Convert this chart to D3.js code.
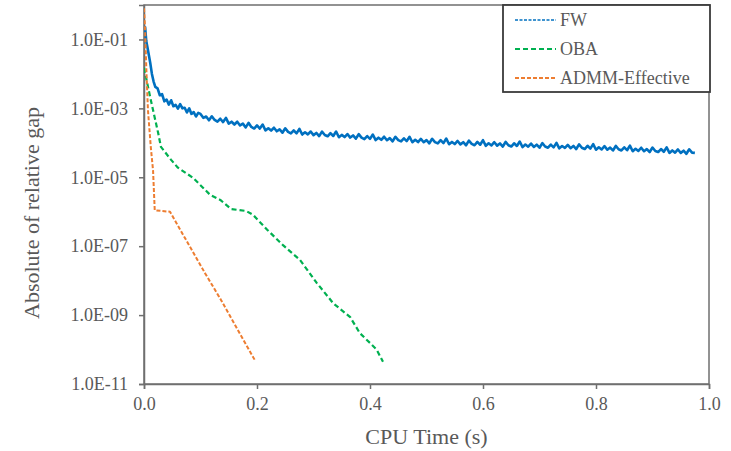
<!DOCTYPE html>
<html>
<head>
<meta charset="utf-8">
<script src="https://cdn.jsdelivr.net/npm/d3@7"></script>
<style>
    body { margin: 0; background: #fff; }
    text { font-family: "Times New Roman", "Liberation Serif", serif; fill: #595959; }
</style>
</head>
<body>
<svg id="gapChart" width="731" height="451"></svg>
<script>
// Data
const fwTime = [0, 0.002, 0.004, 0.006, 0.008, 0.011, 0.014, 0.017,
    0.020, 0.024, 0.028, 0.032, 0.036, 0.040, 0.044, 0.048, 0.052, 0.056,
    0.060, 0.064, 0.068, 0.072, 0.076, 0.080, 0.084, 0.088, 0.092, 0.096,
    0.100, 0.105, 0.110, 0.115, 0.120, 0.125, 0.130, 0.135, 0.140, 0.145,
    0.150, 0.155, 0.160, 0.165, 0.170, 0.175, 0.180, 0.185, 0.190, 0.195,
    0.200, 0.205, 0.210, 0.215, 0.220, 0.225, 0.230, 0.235, 0.240, 0.245,
    0.250, 0.255, 0.260, 0.265, 0.270, 0.275, 0.280, 0.285, 0.290, 0.295,
    0.300, 0.305, 0.310, 0.315, 0.320, 0.325, 0.330, 0.335, 0.340, 0.345,
    0.350, 0.355, 0.360, 0.365, 0.370, 0.375, 0.380, 0.385, 0.390, 0.395,
    0.400, 0.405, 0.410, 0.415, 0.420, 0.425, 0.430, 0.435, 0.440, 0.445,
    0.450, 0.455, 0.460, 0.465, 0.470, 0.475, 0.480, 0.485, 0.490, 0.495,
    0.500, 0.505, 0.510, 0.515, 0.520, 0.525, 0.530, 0.535, 0.540, 0.545,
    0.550, 0.555, 0.560, 0.565, 0.570, 0.575, 0.580, 0.585, 0.590, 0.595,
    0.600, 0.605, 0.610, 0.615, 0.620, 0.625, 0.630, 0.635, 0.640, 0.645,
    0.650, 0.655, 0.660, 0.665, 0.670, 0.675, 0.680, 0.685, 0.690, 0.695,
    0.700, 0.705, 0.710, 0.715, 0.720, 0.725, 0.730, 0.735, 0.740, 0.745,
    0.750, 0.755, 0.760, 0.765, 0.770, 0.775, 0.780, 0.785, 0.790, 0.795,
    0.800, 0.805, 0.810, 0.815, 0.820, 0.825, 0.830, 0.835, 0.840, 0.845,
    0.850, 0.855, 0.860, 0.865, 0.870, 0.875, 0.880, 0.885, 0.890, 0.895,
    0.900, 0.905, 0.910, 0.915, 0.920, 0.925, 0.930, 0.935, 0.940, 0.945,
    0.950, 0.955, 0.960, 0.965, 0.970, 0.975];
const fwGap = [1.5e-1, 2.3e-1, 9.0e-2, 6.0e-2, 4.0e-2, 2.1e-2, 1.0e-2, 6.0e-3,
    4.2e-3, 3.8e-3, 2.4e-3, 2.6e-3, 1.6e-3, 1.8e-3, 1.28e-3, 1.72e-3, 1.15e-3, 1.26e-3,
    9.8e-4, 1.32e-3, 1.0e-3, 1.04e-3, 7.6e-4, 1.0e-3, 6.9e-4, 7.8e-4, 5.8e-4, 7.4e-4,
    6.9e-4, 5.3e-4, 5.8e-4, 4.5e-4, 5.9e-4, 4.6e-4, 4.1e-4, 5.0e-4, 4.0e-4, 5.3e-4,
    3.6e-4, 4.1e-4, 3.4e-4, 4.1e-4, 3.2e-4, 3.6e-4, 2.8e-4, 3.8e-4, 2.9e-4, 2.6e-4,
    3.2e-4, 2.6e-4, 3.4e-4, 2.3e-4, 2.65e-4, 2.26e-4, 2.74e-4, 2.16e-4, 2.46e-4, 1.97e-4,
    2.64e-4, 2.08e-4, 1.88e-4, 2.30e-4, 1.88e-4, 2.53e-4, 1.74e-4, 2.03e-4, 1.76e-4, 2.13e-4,
    1.67e-4, 1.93e-4, 1.57e-4, 2.12e-4, 1.69e-4, 1.55e-4, 1.91e-4, 1.58e-4, 2.13e-4, 1.45e-4,
    1.70e-4, 1.47e-4, 1.80e-4, 1.42e-4, 1.64e-4, 1.32e-4, 1.78e-4, 1.41e-4, 1.28e-4, 1.57e-4,
    1.30e-4, 1.74e-4, 1.20e-4, 1.41e-4, 1.22e-4, 1.50e-4, 1.19e-4, 1.37e-4, 1.11e-4, 1.50e-4,
    1.20e-4, 1.10e-4, 1.35e-4, 1.12e-4, 1.50e-4, 1.04e-4, 1.22e-4, 1.05e-4, 1.30e-4, 1.04e-4,
    1.20e-4, 9.7e-5, 1.31e-4, 1.05e-4, 9.6e-5, 1.19e-4, 9.8e-5, 1.33e-4, 9.1e-5, 1.06e-4,
    9.2e-5, 1.13e-4, 9.0e-5, 1.04e-4, 8.5e-5, 1.16e-4, 9.3e-5, 8.5e-5, 1.06e-4, 8.8e-5,
    1.19e-4, 8.2e-5, 9.7e-5, 8.4e-5, 1.04e-4, 8.3e-5, 9.6e-5, 7.8e-5, 1.06e-4, 8.5e-5,
    7.8e-5, 9.7e-5, 8.1e-5, 1.09e-4, 7.5e-5, 8.9e-5, 7.7e-5, 9.5e-5, 7.6e-5, 8.8e-5,
    7.2e-5, 9.8e-5, 7.8e-5, 7.2e-5, 8.9e-5, 7.4e-5, 1.00e-4, 6.9e-5, 8.1e-5, 7.1e-5,
    8.7e-5, 7.0e-5, 8.1e-5, 6.6e-5, 9.0e-5, 7.2e-5, 6.6e-5, 8.2e-5, 6.8e-5, 9.2e-5,
    6.3e-5, 7.4e-5, 6.4e-5, 8.0e-5, 6.3e-5, 7.3e-5, 6.0e-5, 8.1e-5, 6.5e-5, 6.0e-5,
    7.4e-5, 6.1e-5, 8.3e-5, 5.7e-5, 6.7e-5, 5.8e-5, 7.2e-5, 5.7e-5, 6.6e-5, 5.4e-5,
    7.3e-5, 5.8e-5, 5.4e-5, 6.6e-5, 5.5e-5, 7.4e-5, 5.1e-5, 6.0e-5, 5.2e-5, 6.4e-5,
    5.1e-5, 5.9e-5, 4.8e-5, 6.5e-5, 5.2e-5, 5.1e-5];

const obaTime = [0, 0.011, 0.016, 0.025, 0.030, 0.048, 0.060, 0.087, 0.117, 0.135, 0.154, 0.181, 0.193,
    0.218, 0.246, 0.276, 0.306, 0.335, 0.365, 0.382, 0.400, 0.412, 0.423];
const obaGap = [1.5e-2, 2.1e-3, 8.9e-4, 1.95e-4, 7.6e-5, 3.2e-5, 1.9e-5, 9.6e-6, 3.1e-6, 2.2e-6, 1.2e-6, 1.05e-6, 8.1e-7,
    3.0e-7, 1.07e-7, 4.0e-8, 8.5e-9, 2.2e-9, 8.7e-10, 3.0e-10, 1.55e-10, 9.8e-11, 4.4e-11];

const admmTime = [0, 0.002, 0.004, 0.007, 0.012, 0.016, 0.019, 0.046, 0.078, 0.108, 0.136, 0.166, 0.196];
const admmGap = [8.0e-1, 1.9e-1, 1.6e-2, 8.9e-4, 7.6e-5, 1.6e-5, 1.1e-6, 1.0e-6, 1.2e-7, 1.65e-8, 2.8e-9, 3.7e-10, 5.0e-11];

const seriesNames = ["FW", "OBA", "ADMM-Effective"];
const seriesColors = ["#0070C0", "#00B050", "#ED7D31"];

const xTicks = [0, 0.2, 0.4, 0.6, 0.8, 1.0];
const xTickLabels = ["0.0", "0.2", "0.4", "0.6", "0.8", "1.0"];
const yTicks = [1e-1, 1e-3, 1e-5, 1e-7, 1e-9, 1e-11];
const yTickLabels = ["1.0E-01", "1.0E-03", "1.0E-05", "1.0E-07", "1.0E-09", "1.0E-11"];

const serifFont = '"Times New Roman", "Liberation Serif", serif';

// Chart setup
const svg = d3.select("#gapChart"),
    plot = {left: 144, right: 709, top: 5, bottom: 384};

const x = d3.scaleLinear().domain([0, 1]).range([plot.left, plot.right]);
const y = d3.scaleLog().domain([1e-11, 1]).range([plot.bottom, plot.top]);

// Plot frame
svg.append("rect")
    .attr("x", plot.left)
    .attr("y", plot.top)
    .attr("width", plot.right - plot.left)
    .attr("height", plot.bottom - plot.top)
    .attr("fill", "none")
    .attr("stroke", "#6f6f6f")
    .attr("stroke-width", 1.5);

// Axes
const xAxis = d3.axisBottom(x)
    .tickValues(xTicks)
    .tickSize(5)
    .tickPadding(8)
    .tickFormat((d, i) => xTickLabels[i]);

const yAxis = d3.axisLeft(y)
    .tickValues(yTicks)
    .tickSize(5)
    .tickPadding(11)
    .tickFormat((d, i) => yTickLabels[i]);

function styleAxis(g) {
    g.attr("font-family", serifFont).attr("font-size", 18);
    g.select(".domain").attr("stroke", "#6f6f6f").attr("stroke-width", 1.5);
    g.selectAll(".tick line").attr("stroke", "#6f6f6f").attr("stroke-width", 1.5);
    g.selectAll(".tick text").attr("fill", "#595959");
}

svg.append("g")
    .attr("transform", `translate(0,${plot.bottom})`)
    .call(xAxis)
    .call(styleAxis);

svg.append("g")
    .attr("transform", `translate(${plot.left},0)`)
    .call(yAxis)
    .call(styleAxis);

// Axis titles
svg.append("text")
    .attr("x", (plot.left + plot.right) / 2)
    .attr("y", 444)
    .attr("text-anchor", "middle")
    .attr("font-family", serifFont)
    .style("font-size", "22px")
    .text("CPU Time (s)");

svg.append("text")
    .attr("transform", "translate(39,213) rotate(-90)")
    .attr("text-anchor", "middle")
    .attr("font-family", serifFont)
    .style("font-size", "22px")
    .text("Absolute of relative gap");

// Lines
const line = d3.line()
    .x(d => x(d[0]))
    .y(d => y(d[1]));

const series = [
    {name: seriesNames[0], data: d3.zip(fwTime, fwGap), color: seriesColors[0], width: 2.6, dash: null},
    {name: seriesNames[1], data: d3.zip(obaTime, obaGap), color: seriesColors[1], width: 2.2, dash: "5,3"},
    {name: seriesNames[2], data: d3.zip(admmTime, admmGap), color: seriesColors[2], width: 2, dash: "4,2"}
];

svg.append("clipPath").attr("id", "plotClip")
    .append("rect")
    .attr("x", plot.left)
    .attr("y", plot.top)
    .attr("width", plot.right - plot.left)
    .attr("height", plot.bottom - plot.top);

svg.append("g")
    .attr("clip-path", "url(#plotClip)")
    .selectAll("path")
    .data(series)
    .enter().append("path")
    .attr("d", d => line(d.data))
    .attr("fill", "none")
    .attr("stroke", d => d.color)
    .attr("stroke-width", d => d.width)
    .attr("stroke-dasharray", d => d.dash)
    .attr("stroke-linejoin", "round");

// Legend
const legend = svg.append("g");

legend.append("rect")
    .attr("x", 503)
    .attr("y", 5)
    .attr("width", 207)
    .attr("height", 87)
    .attr("fill", "#fff")
    .attr("stroke", "#3a3a3a")
    .attr("stroke-width", 1.8);

const legendDash = ["3,1.5", "5,3", "4,2"];
const legendWidth = [1.3, 2.2, 2];

const items = legend.selectAll(".item")
    .data(series)
    .enter().append("g")
    .attr("class", "item")
    .attr("transform", (d, i) => `translate(0,${20 + i * 29})`);

items.append("line")
    .attr("x1", 515)
    .attr("x2", 556)
    .attr("stroke", d => d.color)
    .attr("stroke-width", (d, i) => legendWidth[i])
    .attr("stroke-dasharray", (d, i) => legendDash[i]);

items.append("text")
    .attr("x", 560)
    .attr("dy", "0.33em")
    .attr("font-family", serifFont)
    .style("font-size", "18px")
    .text(d => d.name);
</script>
</body>
</html>
